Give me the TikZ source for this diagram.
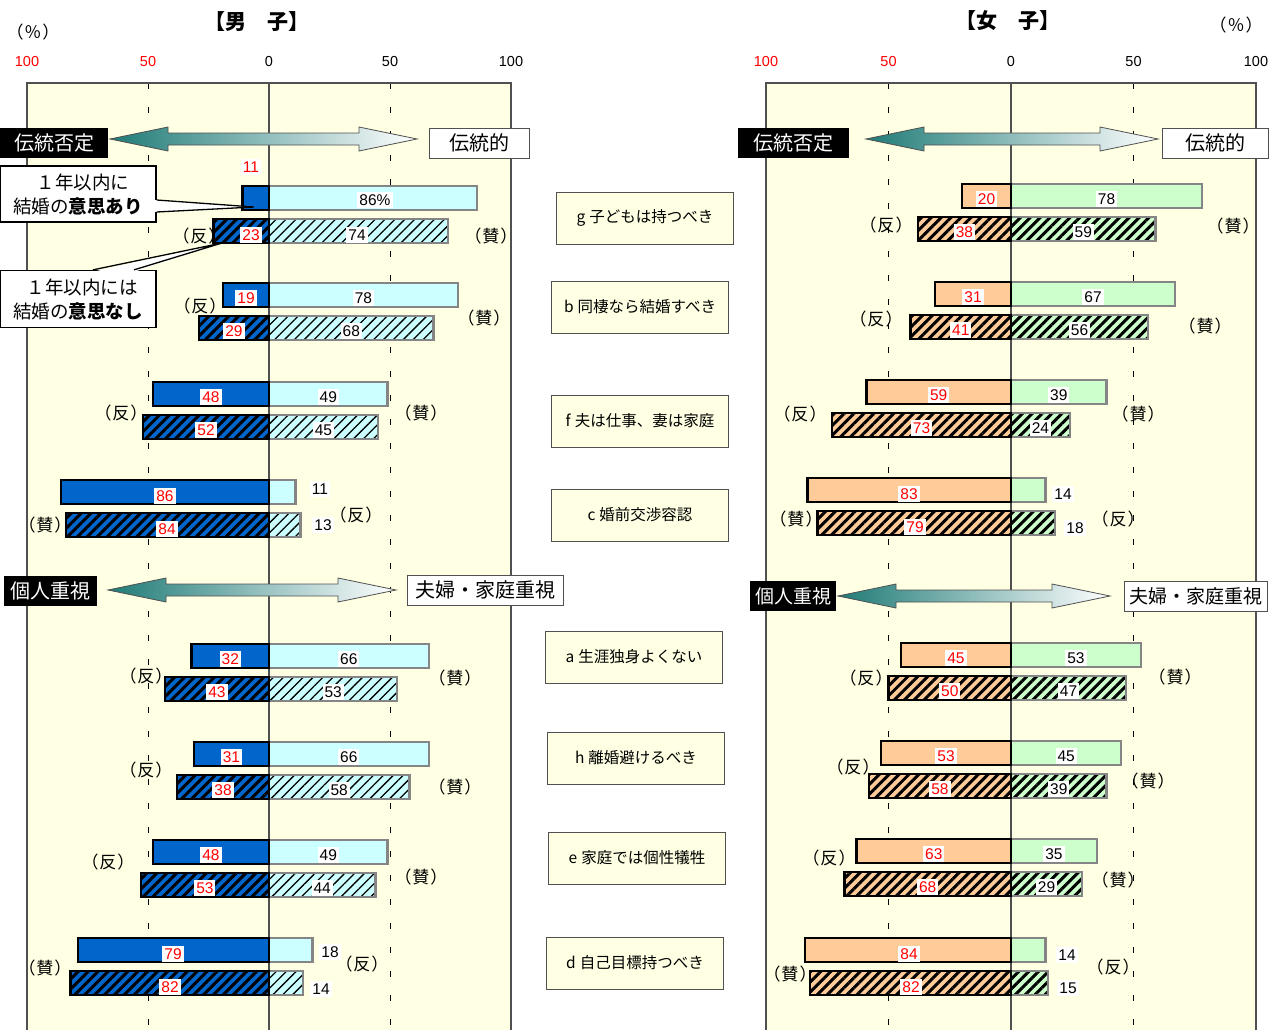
\documentclass[tikz,border=0pt]{standalone}
\usepackage{fontspec}
\setmainfont{Liberation Sans}
\newfontfamily\jp{Noto Sans CJK JP}
\usetikzlibrary{calc,patterns.meta}

\definecolor{mblue}{HTML}{0066CC}
\definecolor{mcyan}{HTML}{CCFFFF}
\definecolor{fpeach}{HTML}{FFCC99}
\definecolor{fgreen}{HTML}{CCFFCC}
\definecolor{bargray}{HTML}{858585}
\definecolor{paper}{HTML}{FFFFE3}
\definecolor{tealc}{HTML}{1F7B77}
\definecolor{frame}{HTML}{505050}

% panel: zero, scale
\newcommand\panel[2]{%
  \fill[paper] ({#1-100*#2},83) rectangle ({#1+100*#2},1030);
  \draw[grid50] ({#1-50*#2},83) -- ({#1-50*#2},1030);
  \draw[grid50] ({#1+50*#2},83) -- ({#1+50*#2},1030);
  \draw[frame,line width=1.4pt] ({#1-100*#2},1030) -- ({#1-100*#2},83) -- ({#1+100*#2},83) -- ({#1+100*#2},1030);
  \draw[frame,line width=1.2pt] (#1,83) -- (#1,1030);
  \node[hd,text=red] at ({#1-100*#2},62) {100};
  \node[hd,text=red] at ({#1-50*#2},62) {50};
  \node[hd] at (#1,62) {0};
  \node[hd] at ({#1+50*#2},62) {50};
  \node[hd] at ({#1+100*#2},62) {100};}

% bars: zero, scale, prefix, y, left solid, left hatched, right solid, right hatched
\newcommand\bargroup[8]{%
  \path[#3sr] (#1,#4-12) rectangle ({#1+#2*#7},#4+12);
  \path[#3hr] (#1,#4+21) rectangle ({#1+#2*#8},#4+45);
  \path[#3sl] ({#1-#2*#5},#4-12) rectangle (#1,#4+12);
  \path[#3hl] ({#1-#2*#6},#4+21) rectangle (#1,#4+45);}

% values in the middle of the bars
\newcommand\barvals[8]{%
  \node[lnum] (#3ls) at ({#1-#2*#5/2},#4+3) {#5};
  \node[lnum] (#3lh) at ({#1-#2*#6/2},#4+36) {#6};
  \node[rnum] (#3rs) at ({#1+#2*#7/2},#4+3) {#7};
  \node[rnum] (#3rh) at ({#1+#2*#8/2},#4+36) {#8};}

% double arrow between two tips
\newcommand\twoway[2]{%
  \shade[left color=tealc,right color=white,draw=frame,line width=0.8pt]
    (#1) -- ($(#1)+(58,-12)$) -- ($(#1)+(58,-6)$) -- ($(#2)+(-58,-6)$) -- ($(#2)+(-58,-12)$) -- (#2)
    -- ($(#2)+(-58,12)$) -- ($(#2)+(-58,6)$) -- ($(#1)+(58,6)$) -- ($(#1)+(58,12)$) -- cycle;}

\newcommand\hanmark{（\hspace{1pt}反\hspace{1pt}）}
\newcommand\sanmark{（\hspace{1pt}賛\hspace{1pt}）}

\begin{document}
\begin{tikzpicture}
[x=1pt,y=-1pt,
num/.style={fill=white,inner xsep=2pt,inner ysep=2.5pt,font=\fontsize{15.5}{15.5}\selectfont},
lnum/.style={num,text=red},
rnum/.style={num,text=black},
hd/.style={font=\fontsize{14.5}{14.5}\selectfont},
ann/.style={font=\jp\fontsize{17}{17}\selectfont},
ttl/.style={font=\jp\bfseries\fontsize{21}{21}\selectfont},
item/.style={draw=frame,fill=paper,line width=0.9pt,minimum width=177pt,minimum height=52pt,font=\jp\fontsize{15.5}{15.5}\selectfont},
negbox/.style={fill=black,text=white,minimum height=30pt,inner xsep=0pt,font=\jp\fontsize{20}{20}\selectfont},
posbox/.style={fill=white,draw=frame,line width=0.9pt,minimum height=30pt,inner xsep=0pt,font=\jp\fontsize{20}{20}\selectfont},
callbox/.style={draw=black,fill=white,line width=1.3pt,minimum width=156pt,minimum height=56pt,align=center,inner sep=0pt,font=\jp\fontsize{18.5}{24}\selectfont},
pointer/.style={draw=black,line width=1.3pt},
msl/.style={fill=mblue,draw=black,line width=2.4pt},
msr/.style={fill=mcyan,draw=bargray,line width=2.4pt},
mhl/.style={preaction={fill=mblue},pattern={Lines[angle=45,distance=7pt,line width=3pt]},pattern color=black,draw=black,line width=2.4pt},
mhr/.style={preaction={fill=mcyan},pattern={Lines[angle=45,distance=7pt,line width=1.3pt]},pattern color=black,draw=bargray,line width=2.4pt},
fsl/.style={fill=fpeach,draw=black,line width=2.4pt},
fsr/.style={fill=fgreen,draw=bargray,line width=2.4pt},
fhl/.style={preaction={fill=fpeach},pattern={Lines[angle=45,distance=7pt,line width=3pt]},pattern color=black,draw=black,line width=2.4pt},
fhr/.style={preaction={fill=fgreen},pattern={Lines[angle=45,distance=7pt,line width=3pt]},pattern color=black,draw=bargray,line width=2.4pt},
grid50/.style={draw=black,line width=1pt,dash pattern=on 6pt off 18pt}]

\useasboundingbox (0,0) rectangle (1273,1030);
\fill[white] (0,0) rectangle (1273,1030);

% headings
\node[ttl] (mtitle) at (257,22) {【男　子】};
\node[ttl] (ftitle) at (1008,21) {【女　子】};
\node[ann] (munit) at (33,32) {（\hspace{1pt}％\hspace{1pt}）};
\node[ann] (funit) at (1236,25) {（\hspace{1pt}％\hspace{1pt}）};

\panel{269}{2.42}
\panel{1011}{2.45}

% (反) (賛) marks, male
\node[ann] (mgn) at (199,236) {\hanmark};  \node[ann] (mgp) at (491,236) {\sanmark};
\node[ann] (mbn) at (200,306) {\hanmark};  \node[ann] (mbp) at (484,318) {\sanmark};
\node[ann] (mfn) at (121,413) {\hanmark};  \node[ann] (mfp) at (421,413) {\sanmark};
\node[ann] (mcp) at (45,525) {\sanmark};   \node[ann] (mcn) at (356,515) {\hanmark};
\node[ann] (man) at (146,676) {\hanmark};  \node[ann] (map) at (455,678) {\sanmark};
\node[ann] (mhn) at (146,770) {\hanmark};  \node[ann] (mhp) at (455,787) {\sanmark};
\node[ann] (men) at (108,862) {\hanmark};  \node[ann] (mep) at (421,877) {\sanmark};
\node[ann] (mdp) at (45,968) {\sanmark};   \node[ann] (mdn) at (362,964) {\hanmark};
% (反) (賛) marks, female
\node[ann] (fgn) at (886,225) {\hanmark};  \node[ann] (fgp) at (1233,226) {\sanmark};
\node[ann] (fbn) at (876,319) {\hanmark};  \node[ann] (fbp) at (1205,326) {\sanmark};
\node[ann] (ffn) at (800,414) {\hanmark};  \node[ann] (ffp) at (1138,414) {\sanmark};
\node[ann] (fcp) at (796,519) {\sanmark};  \node[ann] (fcn) at (1118,519) {\hanmark};
\node[ann] (fan) at (866,678) {\hanmark};  \node[ann] (fap) at (1175,677) {\sanmark};
\node[ann] (fhn) at (853,767) {\hanmark};  \node[ann] (fhp) at (1148,781) {\sanmark};
\node[ann] (fen) at (829,858) {\hanmark};  \node[ann] (fep) at (1118,880) {\sanmark};
\node[ann] (fdp) at (790,974) {\sanmark};  \node[ann] (fdn) at (1113,967) {\hanmark};

% male bars
\bargroup{269}{2.42}{m}{198}{11}{23}{86}{74}
\bargroup{269}{2.42}{m}{295}{19}{29}{78}{68}
\bargroup{269}{2.42}{m}{394}{48}{52}{49}{45}
\bargroup{269}{2.42}{m}{492}{86}{84}{11}{13}
\bargroup{269}{2.42}{m}{656}{32}{43}{66}{53}
\bargroup{269}{2.42}{m}{754}{31}{38}{66}{58}
\bargroup{269}{2.42}{m}{852}{48}{53}{49}{44}
\bargroup{269}{2.42}{m}{950}{79}{82}{18}{14}
% female bars
\bargroup{1011}{2.45}{f}{196}{20}{38}{78}{59}
\bargroup{1011}{2.45}{f}{294}{31}{41}{67}{56}
\bargroup{1011}{2.45}{f}{392}{59}{73}{39}{24}
\bargroup{1011}{2.45}{f}{490}{83}{79}{14}{18}
\bargroup{1011}{2.45}{f}{655}{45}{50}{53}{47}
\bargroup{1011}{2.45}{f}{753}{53}{58}{45}{39}
\bargroup{1011}{2.45}{f}{851}{63}{68}{35}{29}
\bargroup{1011}{2.45}{f}{950}{84}{82}{14}{15}

% values, male
\node[lnum] (mgls) at (251,167) {11};
\node[lnum] (mglh) at (251,235) {23};
\node[rnum] (mgrs) at (375,200) {86\%};
\node[rnum] (mgrh) at (357,235) {74};
\barvals{269}{2.42}{mb}{295}{19}{29}{78}{68}
\barvals{269}{2.42}{mf}{394}{48}{52}{49}{45}
\node[lnum] (mcls) at (165,496) {86};
\node[lnum] (mclh) at (167,529) {84};
\node[rnum] (mcrs) at (320,489) {11};
\node[rnum] (mcrh) at (323,525) {13};
\barvals{269}{2.42}{ma}{656}{32}{43}{66}{53}
\barvals{269}{2.42}{mh}{754}{31}{38}{66}{58}
\barvals{269}{2.42}{me}{852}{48}{53}{49}{44}
\node[lnum] (mdls) at (173,954) {79};
\node[lnum] (mdlh) at (170,987) {82};
\node[rnum] (mdrs) at (330,952) {18};
\node[rnum] (mdrh) at (321,989) {14};
% values, female
\barvals{1011}{2.45}{fg}{196}{20}{38}{78}{59}
\barvals{1011}{2.45}{fb}{294}{31}{41}{67}{56}
\barvals{1011}{2.45}{ff}{392}{59}{73}{39}{24}
\node[lnum] (fcls) at (909,494) {83};
\node[lnum] (fclh) at (915,527) {79};
\node[rnum] (fcrs) at (1063,494) {14};
\node[rnum] (fcrh) at (1075,528) {18};
\barvals{1011}{2.45}{fa}{655}{45}{50}{53}{47}
\barvals{1011}{2.45}{fh}{753}{53}{58}{45}{39}
\barvals{1011}{2.45}{fe}{851}{63}{68}{35}{29}
\node[lnum] (fdls) at (909,954) {84};
\node[lnum] (fdlh) at (911,987) {82};
\node[rnum] (fdrs) at (1067,955) {14};
\node[rnum] (fdrh) at (1068,988) {15};

% items
\node[item] (ig) at (645,218) {g\hspace{4pt}子どもは持つべき};
\node[item] (ib) at (640,307) {b\hspace{4pt}同棲なら結婚すべき};
\node[item] (if) at (640,421) {f\hspace{4pt}夫は仕事、妻は家庭};
\node[item] (ic) at (640,515) {c\hspace{4pt}婚前交渉容認};
\node[item] (ia) at (634,657) {a\hspace{4pt}生涯独身よくない};
\node[item] (ih) at (636,758) {h\hspace{4pt}離婚避けるべき};
\node[item] (ie) at (637,858) {e\hspace{4pt}家庭では個性犠牲};
\node[item] (id) at (635,963) {d\hspace{4pt}自己目標持つべき};

% direction arrows
\node[negbox,minimum width=108pt] (mneg1) at (54,143) {伝統否定};
\node[posbox,minimum width=100pt] (mpos1) at (479,143) {伝統的};
\coordinate (mtl) at (110,139);
\coordinate (mtr) at (417,139);
\twoway{mtl}{mtr}
\node[negbox,minimum width=111pt] (fneg1) at (793,143) {伝統否定};
\node[posbox,minimum width=106pt] (fpos1) at (1215,143) {伝統的};
\coordinate (ftl) at (866,139);
\coordinate (ftr) at (1158,139);
\twoway{ftl}{ftr}
\node[negbox,minimum width=93pt] (mneg2) at (50,591) {個人重視};
\node[posbox,minimum width=156pt] (mpos2) at (485,590) {夫婦・家庭重視};
\coordinate (mbl) at (108,590);
\coordinate (mbr) at (396,590);
\twoway{mbl}{mbr}
\node[negbox,minimum width=86pt,font=\jp\fontsize{19}{19}\selectfont] (fneg2) at (793,596) {個人重視};
\node[posbox,minimum width=143pt,font=\jp\fontsize{19}{19}\selectfont] (fpos2) at (1196,596) {夫婦・家庭重視};
\coordinate (fbl) at (838,596);
\coordinate (fbr) at (1110,596);
\twoway{fbl}{fbr}

% callouts
\node[callbox] (co1) at (78,194) {\hspace{10pt}１年以内に\\結婚の\textbf{意思あり}};
\coordinate (tip1) at (254,207);
\fill[white] ([xshift=-2pt,yshift=-6pt]co1.east) -- (tip1) -- ([xshift=-2pt,yshift=-18pt]co1.east) -- cycle;
\draw[pointer] ([yshift=-6pt]co1.east) -- (tip1) -- ([yshift=-18pt]co1.east);
\node[callbox,minimum height=57pt] (co2) at (78,299) {\hspace{8pt}１年以内には\\結婚の\textbf{意思なし}};
\coordinate (tip2) at (222,243);
\fill[white] ([xshift=15pt,yshift=-2pt]co2.north) -- (tip2) -- ([xshift=56pt,yshift=-2pt]co2.north) -- cycle;
\draw[pointer] ([xshift=15pt]co2.north) -- (tip2) -- ([xshift=56pt]co2.north);
\end{tikzpicture}
\end{document}
